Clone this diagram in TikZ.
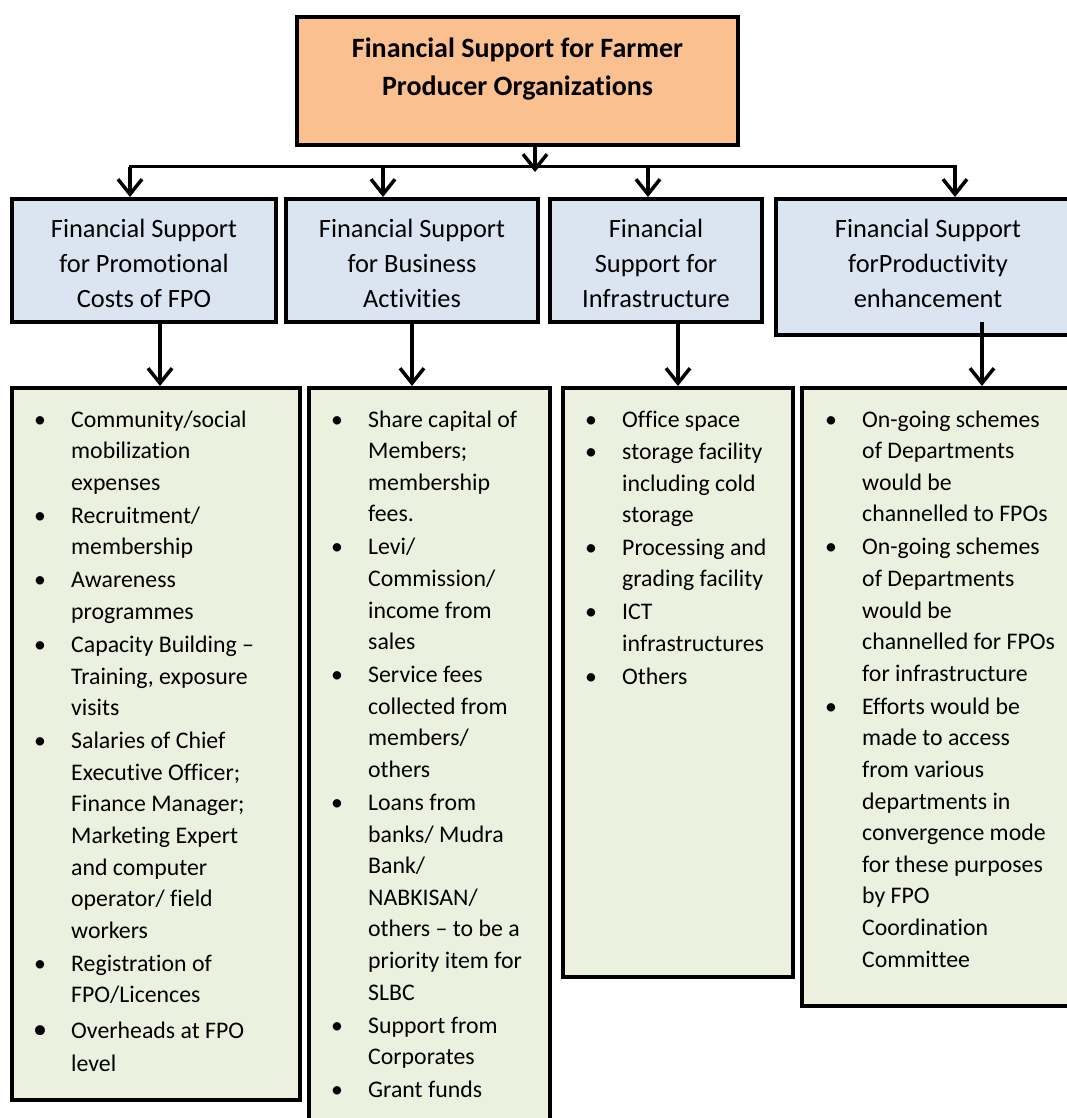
\documentclass[tikz,border=0pt]{standalone}
\usepackage{fontspec}
\setmainfont{Carlito}[Ligatures=CommonOff]
\usetikzlibrary{arrows.meta,calc}
\definecolor{peach}{HTML}{FAC090}
\definecolor{hblue}{HTML}{DBE5F1}
\definecolor{lgreen}{HTML}{EBF1DE}
\begin{document}
\begin{tikzpicture}[x=1pt,y=-1pt,
  box/.style={draw=black, line width=4pt, inner sep=0pt, rectangle},
  topbox/.style={box, fill=peach},
  hdr/.style={box, fill=hblue, minimum height=123pt},
  lst/.style={box, fill=lgreen},
  hdrtxt/.style={align=center, anchor=base, inner sep=0pt, font=\fontsize{26.4}{34.8}\selectfont},
  ttl/.style={align=center, anchor=base, inner sep=0pt, font=\bfseries\fontsize{28}{38.5}\selectfont},
  itm/.style={align=left, anchor=base west, inner sep=0pt, font=\fontsize{23.8}{31.6}\selectfont},
  bul/.style={anchor=base, inner sep=0pt, font=\fontsize{23.8}{31.6}\selectfont},
  arr/.style={line width=3.5pt, -{Straight Barb[length=15pt,width=24pt]}},
  bus/.style={line width=3pt, line cap=rect}]
\fill[white] (0,0) rectangle (1067,1118);
\useasboundingbox (0,0) rectangle (1067,1118);

% top box (text nodes are anchored at the baseline of their last line)
\node[topbox, minimum width=441pt, minimum height=128pt] (top) at (517.5,81) {};
\node[ttl] (ttl) at (517.5,96) {Financial Support for Farmer\\Producer Organizations};

% bus
\coordinate (bt) at (535,167);
\coordinate (b1) at (130,167);
\coordinate (b2) at (383,167);
\coordinate (b3) at (648,167);
\coordinate (b4) at (955,167);

% headers
\node[hdr, minimum width=264pt] (h1) at (144,260.5) {};
\node[hdr, minimum width=252pt] (h2) at (412,260.5) {};
\node[hdr, minimum width=212pt] (h3) at (656,260.5) {};
\node[hdr, minimum width=304pt, minimum height=136pt] (h4) at (928,267) {};
\node[hdrtxt] (h1t) at (144,307.1) {Financial Support\\for Promotional\\Costs of FPO};
\node[hdrtxt] (h2t) at (412,307.1) {Financial Support\\for Business\\Activities};
\node[hdrtxt] (h3t) at (656,307.1) {Financial\\Support for\\Infrastructure};
\node[hdrtxt] (h4t) at (928,307.1) {Financial Support\\forProductivity\\enhancement};

% lists
\node[lst, minimum width=288pt, minimum height=712pt] (l1) at (156,744) {};
\node[lst, minimum width=241pt, minimum height=742pt] (l2) at (429.5,759) {};
\node[lst, minimum width=230pt, minimum height=589pt] (l3) at (678,682.5) {};
\node[lst, minimum width=288pt, minimum height=618pt] (l4) at (946,697) {};

\coordinate (d1) at (160,388);
\coordinate (d2) at (412,388);
\coordinate (d3) at (678,388);
\coordinate (d4) at (982,388);

% connectors
\draw[arr] (top.south -| bt) -- ([yshift=-5pt]bt);
\draw[bus] (b1) -- (b4);
\draw[arr] (b1) -- (h1.north -| b1);
\draw[arr] (b2) -- (h2.north -| b2);
\draw[arr] (b3) -- (h3.north -| b3);
\draw[arr] (b4) -- (h4.north -| b4);
\draw[arr] (h1.south -| d1) -- (l1.north -| d1);
\draw[arr] (h2.south -| d2) -- (l2.north -| d2);
\draw[arr] (h3.south -| d3) -- (l3.north -| d3);
\draw[arr] ($(h4.south -| d4)+(0,-15)$) -- (l4.north -| d4);

% list 1
\foreach \y/\n in {427/a,523.2/b,587.8/c,652.4/d,748.6/e,971.2/f}{
  \node[bul] (l1b\n) at (40,\y) {•};}
\node[bul, font=\fontsize{28}{31.6}\selectfont] (l1bg) at (40,1038) {•};
\node[itm] (l1a) at (71,{427+2*31.6}) {Community/social\\mobilization\\expenses};
\node[itm] (l1b) at (71,{523.2+31.6}) {Recruitment/\\membership};
\node[itm] (l1c) at (71,{587.8+31.6}) {Awareness\\programmes};
\node[itm] (l1d) at (71,{652.4+2*31.6}) {Capacity Building –\\Training, exposure\\visits};
\node[itm] (l1e) at (71,{748.6+6*31.6}) {Salaries of Chief\\Executive Officer;\\Finance Manager;\\Marketing Expert\\and computer\\operator/ field\\workers};
\node[itm] (l1f) at (71,{971.2+31.6}) {Registration of\\FPO/Licences};
\node[itm, font=\fontsize{23.8}{33.7}\selectfont] (l1g) at (71,{1038+33.7}) {Overheads at FPO\\level};

% list 2
\foreach \y/\n in {427/a,554.8/b,682.6/c,810.4/d,1033/e,1097.6/f}{
  \node[bul] (l2b\n) at (337,\y) {•};}
\node[itm] (l2a) at (368,{427+3*31.6}) {Share capital of\\Members;\\membership\\fees.};
\node[itm] (l2b) at (368,{554.8+3*31.6}) {Levi/\\Commission/\\income from\\sales};
\node[itm] (l2c) at (368,{682.6+3*31.6}) {Service fees\\collected from\\members/\\others};
\node[itm] (l2d) at (368,{810.4+6*31.6}) {Loans from\\banks/ Mudra\\Bank/\\NABKISAN/\\others – to be a\\priority item for\\SLBC};
\node[itm] (l2e) at (368,{1033+31.6}) {Support from\\Corporates};
\node[itm] (l2f) at (368,1097.6) {Grant funds};

% list 3
\foreach \y/\n in {427/a,459.5/b,555/c,619.5/d,684/e}{
  \node[bul] (l3b\n) at (591,\y) {•};}
\node[itm] (l3a) at (622,427) {Office space};
\node[itm] (l3b) at (622,{459.5+2*31.6}) {storage facility\\including cold\\storage};
\node[itm] (l3c) at (622,{555+31.6}) {Processing and\\grading facility};
\node[itm] (l3d) at (622,{619.5+31.6}) {ICT\\infrastructures};
\node[itm] (l3e) at (622,684) {Others};

% list 4
\foreach \y/\n in {427/a,554.8/b,714.2/c}{
  \node[bul] (l4b\n) at (831,\y) {•};}
\node[itm] (l4a) at (862,{427+3*31.6}) {On-going schemes\\of Departments\\would be\\channelled to FPOs};
\node[itm] (l4b) at (862,{554.8+4*31.6}) {On-going schemes\\of Departments\\would be\\channelled for FPOs\\for infrastructure};
\node[itm] (l4c) at (862,{714.2+8*31.6}) {Efforts would be\\made to access\\from various\\departments in\\convergence mode\\for these purposes\\by FPO\\Coordination\\Committee};
\end{tikzpicture}
\end{document}
